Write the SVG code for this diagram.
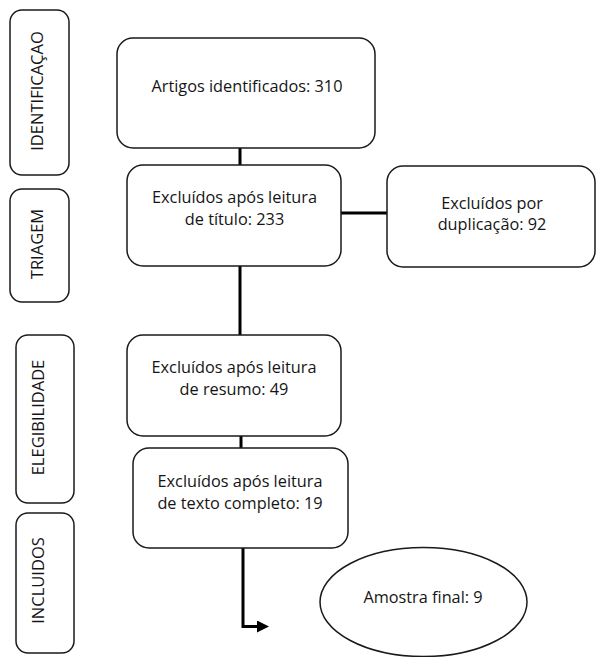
<svg xmlns="http://www.w3.org/2000/svg" width="596" height="657" viewBox="0 0 596 657">
<style>
.box{fill:#fff;stroke:#1a1a1a;stroke-width:1.5}
.t{font-family:"Open Sans","Liberation Sans",sans-serif;font-size:16.3px;fill:#151515;text-anchor:middle}
.v{font-family:"Open Sans","Liberation Sans",sans-serif;font-size:16.5px;fill:#151515;text-anchor:middle}
.c{fill:none;stroke:#000;stroke-width:3}
</style>
<defs>
<marker id="ah" markerWidth="4" markerHeight="4" refX="0" refY="2" orient="auto" markerUnits="strokeWidth">
<path d="M0,0 L4,2 L0,4 Z" fill="#000"/>
</marker>
</defs>
<rect width="596" height="657" fill="#fff"/>
<g id="connectors">
<line class="c" x1="240" y1="148" x2="240" y2="165"/>
<line class="c" x1="341" y1="213" x2="387" y2="213"/>
<line class="c" x1="240" y1="266" x2="240" y2="335"/>
<line class="c" x1="241" y1="436" x2="241" y2="448"/>
<path class="c" d="M243,548 L243,626.5 L257,626.5" marker-end="url(#ah)"/>
</g>
<g id="label-identificacao">
<rect class="box" x="10" y="10" width="59" height="165" rx="12"/>
<text class="v" transform="translate(43,91) rotate(-90)">IDENTIFICAÇAO</text>
</g>
<g id="label-triagem">
<rect class="box" x="10" y="189" width="59" height="113" rx="12"/>
<text class="v" transform="translate(43,244) rotate(-90)">TRIAGEM</text>
</g>
<g id="label-elegibilidade">
<rect class="box" x="16" y="335" width="58" height="168" rx="12"/>
<text class="v" transform="translate(44,417.5) rotate(-90)">ELEGIBILIDADE</text>
</g>
<g id="label-incluidos">
<rect class="box" x="16" y="513" width="58" height="140" rx="12"/>
<text class="v" transform="translate(44,580.5) rotate(-90)">INCLUIDOS</text>
</g>
<g id="artigos">
<rect class="box" x="117" y="38" width="258" height="110" rx="16"/>
<text class="t" x="247" y="92">Artigos identificados: 310</text>
</g>
<g id="titulo">
<rect class="box" x="127" y="165" width="214" height="101" rx="16"/>
<text class="t" x="234.5" y="203">Excluídos após leitura</text>
<text class="t" x="234.5" y="225">de título: 233</text>
</g>
<g id="duplicacao">
<rect class="box" x="387" y="166" width="208" height="101" rx="16"/>
<text class="t" x="492" y="209">Excluídos por</text>
<text class="t" x="492" y="230">duplicação: 92</text>
</g>
<g id="resumo">
<rect class="box" x="127" y="335" width="214" height="101" rx="16"/>
<text class="t" x="234" y="373">Excluídos após leitura</text>
<text class="t" x="234" y="395">de resumo: 49</text>
</g>
<g id="texto-completo">
<rect class="box" x="133" y="448" width="215" height="100" rx="16"/>
<text class="t" x="240" y="487">Excluídos após leitura</text>
<text class="t" x="240" y="509">de texto completo: 19</text>
</g>
<g id="amostra">
<ellipse class="box" cx="423.5" cy="602" rx="103.5" ry="54.5"/>
<text class="t" x="423" y="603">Amostra final: 9</text>
</g>
</svg>
